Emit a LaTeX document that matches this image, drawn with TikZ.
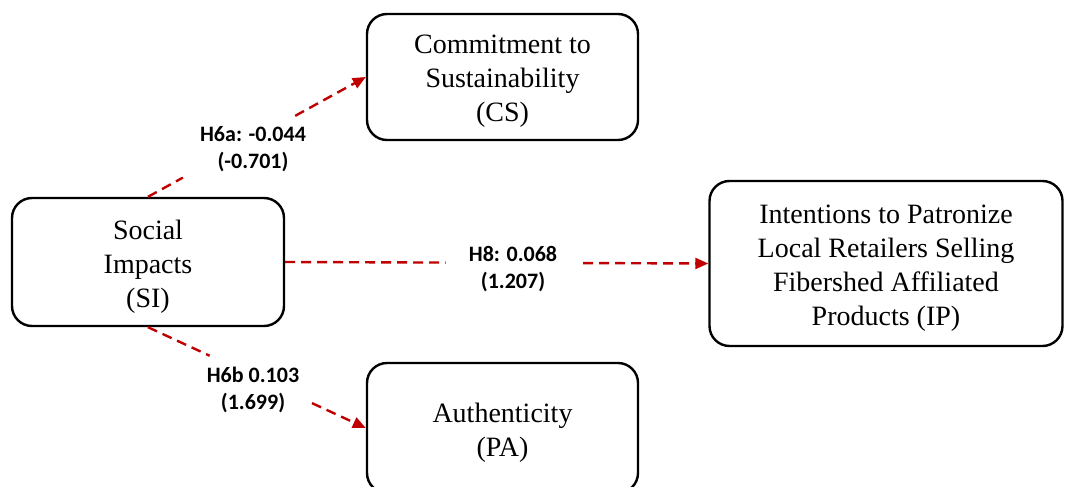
\documentclass[tikz,border=0pt]{standalone}
\usepackage{fontspec}
\setmainfont{Liberation Serif}
\newfontfamily\labelfont{Carlito}
\usetikzlibrary{arrows.meta}
\definecolor{pathred}{HTML}{C00000}

\begin{document}
\begin{tikzpicture}[x=1pt,y=-1pt,
  box/.style={draw=black, line width=2.4pt, rounded corners=20pt,
    minimum width=#1, inner sep=0pt},
  boxtext/.style={align=center, font=\fontsize{28}{34}\selectfont, inner sep=0pt},
  link/.style={draw=pathred, line width=2.4pt, dash pattern=on 10pt off 6pt},
  tip/.style={-{Triangle[length=13pt,width=11pt]}},
  coef/.style={font=\labelfont\bfseries\fontsize{22}{27}\selectfont, align=center, inner sep=0pt}]

\useasboundingbox (0,0) rectangle (1065,487);

% constructs: the frame carries its caption a little below centre
\node[box=271pt, minimum height=126pt,
  label={[boxtext, yshift=-4.5pt]center:Commitment to\\Sustainability\\(CS)}] (CS) at (502.5,77) {};
\node[box=272pt, minimum height=128pt,
  label={[boxtext, yshift=-4.5pt]center:Social\\Impacts\\(SI)}] (SI) at (148,262) {};
\node[box=353pt, minimum height=165pt,
  label={[boxtext, yshift=-4.5pt]center:Intentions to Patronize\\Local Retailers Selling\\Fibershed Affiliated\\Products (IP)}] (IP) at (886,263.5) {};
\node[box=271pt, minimum height=130pt,
  label={[boxtext, yshift=-4.5pt]center:Authenticity\\(PA)}] (PA) at (502.5,428) {};

% break points of the paths around their labels
\path (SI.north) -- (CS.west) coordinate[pos=0.16] (a1) coordinate[pos=0.676] (a2);
\path (SI.east) -- (IP.west) coordinate[pos=0.379] (b1) coordinate[pos=0.704] (b2);
\path (SI.south) -- (PA.west) coordinate[pos=0.283] (c1) coordinate[pos=0.753] (c2);

% paths
\draw[link] (SI.north) -- (a1);
\draw[link,tip] (a2) -- (CS.west);
\draw[link] (SI.east) -- (b1);
\draw[link,tip] (b2) -- (IP.west);
\draw[link] (SI.south) -- (c1);
\draw[link,tip] (c2) -- (PA.west);

% path coefficients
\node[coef] (l6a) at (253,149) {H6a: -0.044\\(-0.701)};
\node[coef] (l8) at (513,269) {H8: 0.068\\(1.207)};
\node[coef] (l6b) at (253,390) {H6b 0.103\\(1.699)};
\end{tikzpicture}
\end{document}
